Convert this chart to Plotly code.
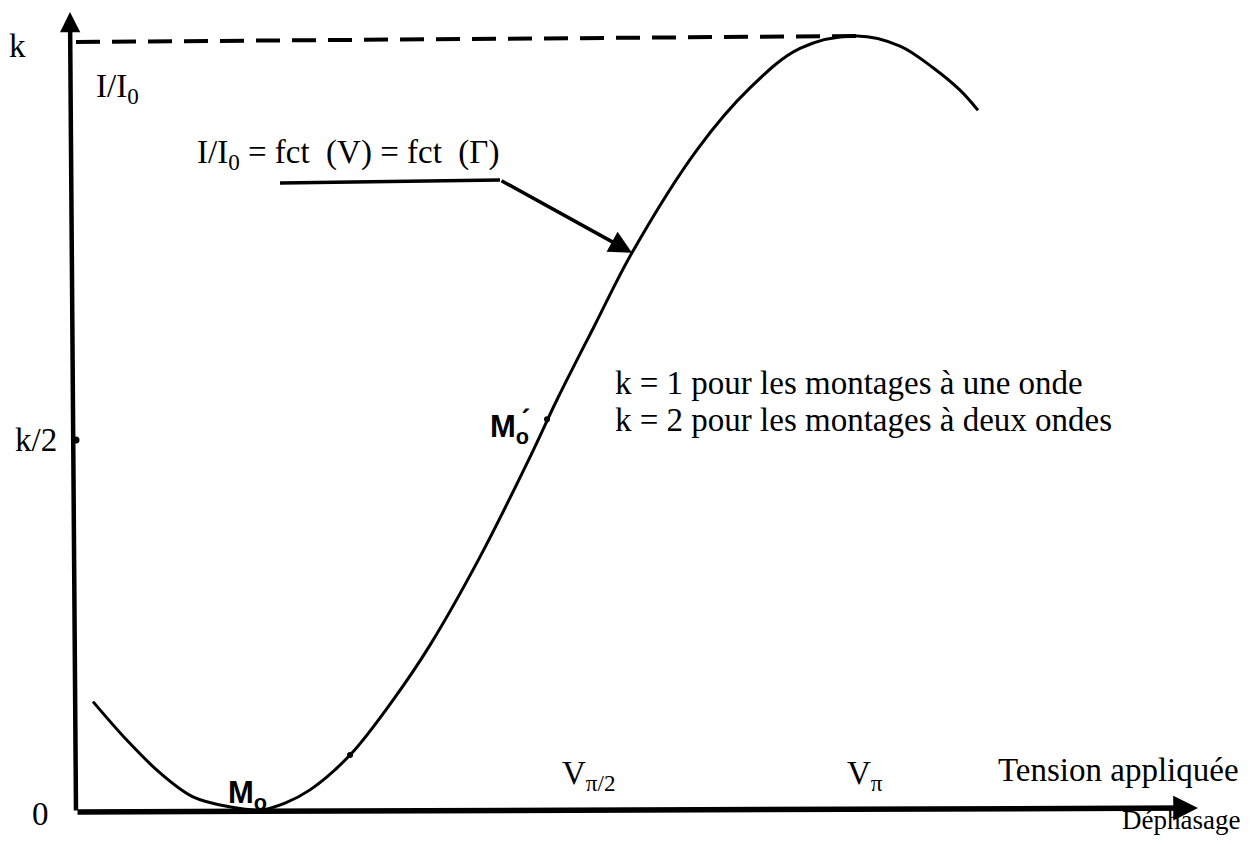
import plotly.graph_objects as go

# curve I/I0 (x in axis units, y as a fraction of k)
curve_x = [0.13, 0.47, 0.80, 1.13, 1.50, 1.80, 2.05, 2.30, 2.70, 3.13, 3.50, 4.00,
           4.50, 4.77, 5.15, 5.52, 6.17, 6.70, 7.20, 7.77, 8.20, 8.53, 8.80, 8.98]
curve_y = [0.140, 0.090, 0.048, 0.017, 0.004, 0.000, 0.009, 0.026, 0.071, 0.142, 0.213, 0.327,
           0.456, 0.530, 0.627, 0.720, 0.853, 0.933, 0.984, 1.000, 0.987, 0.959, 0.930, 0.904]

# levels on the vertical axis
y_levels = [0, 0.478, 1]
y_labels = ["0", "k/2", "k"]

# positions of the voltage marks on the horizontal axis
v_marks_x = [5.08, 7.85]
v_marks = ["V<sub>π/2</sub>", "V<sub>π</sub>"]

# leader line of the curve caption
leader_x = [2.00, 4.20]
leader_y = [0.810, 0.814]
leader_tip = (5.52, 0.720)

m0_point = (1.80, 0.0)
m0p_point = (4.67, 0.50)

SERIF = "Liberation Serif, Times New Roman, serif"
SANS = "Liberation Sans, Arial, sans-serif"


def X(px):
    return (px - 80) / 100.0


def Y(py):
    return (810 - py) / 774.0


fig = go.Figure()

# main curve
fig.add_trace(go.Scatter(x=curve_x, y=curve_y, mode="lines", line_shape="spline",
                         line=dict(color="black", width=3), hoverinfo="skip"))

# dashed line at k
top_i = curve_y.index(max(curve_y))
fig.add_trace(go.Scatter(x=[X(76), curve_x[top_i]], y=[Y(42), curve_y[top_i]],
                         mode="lines", line=dict(color="black", width=4, dash="24px,12px"),
                         hoverinfo="skip"))

# leader line
fig.add_trace(go.Scatter(x=leader_x, y=leader_y, mode="lines",
                         line=dict(color="black", width=3.5), hoverinfo="skip"))

# small marks on the curve
fig.add_trace(go.Scatter(x=[m0p_point[0] + 0.00, 2.70], y=[m0p_point[1] + 0.005, 0.071],
                         mode="markers", marker=dict(color="black", size=6),
                         hoverinfo="skip"))

ann = []
# axes with arrows
ann.append(dict(x=X(70), y=Y(12), ax=X(76), ay=Y(812), xref="x", yref="y", axref="x", ayref="y",
                text="", showarrow=True, arrowhead=2, arrowsize=0.9, arrowwidth=4.5, arrowcolor="black"))
ann.append(dict(x=X(1198), y=Y(808), ax=X(76), ay=Y(812), xref="x", yref="y", axref="x", ayref="y",
                text="", showarrow=True, arrowhead=2, arrowsize=0.9, arrowwidth=5.5, arrowcolor="black"))
# leader arrow
ann.append(dict(x=leader_tip[0], y=leader_tip[1], ax=leader_x[-1], ay=leader_y[-1],
                xref="x", yref="y", axref="x", ayref="y", text="", showarrow=True,
                arrowhead=2, arrowsize=1.3, arrowwidth=3.5, arrowcolor="black"))

font = dict(family=SERIF, size=33, color="black")

# vertical axis labels
label_px = {"0": (40, 814), "k/2": (36, 440), "k": (17, 46)}
for lv, lab in zip(y_levels, y_labels):
    lx, ly = label_px[lab]
    ann.append(dict(x=X(lx), y=Y(ly), text=lab, showarrow=False, font=font,
                    xanchor="center", yanchor="middle"))
# tick at k/2
fig.add_trace(go.Scatter(x=[X(76)], y=[y_levels[1]], mode="markers",
                         marker=dict(color="black", size=7), hoverinfo="skip"))

ann.append(dict(x=X(94), y=Y(88), text="I/I<sub>0</sub>", showarrow=False, font=font,
                xanchor="left", yanchor="middle"))
ann.append(dict(x=X(195), y=Y(154), text="I/I<sub>0</sub> = fct  (V) = fct  (Γ)", showarrow=False,
                font=font, xanchor="left", yanchor="middle"))
ann.append(dict(x=X(613), y=Y(383), text="k = 1 pour les montages à une onde", showarrow=False,
                font=font, xanchor="left", yanchor="middle"))
ann.append(dict(x=X(613), y=Y(420), text="k = 2 pour les montages à deux ondes", showarrow=False,
                font=font, xanchor="left", yanchor="middle"))

for vx, vt in zip(v_marks_x, v_marks):
    ann.append(dict(x=vx, y=Y(775), text=vt, showarrow=False, font=font,
                    xanchor="center", yanchor="middle"))

ann.append(dict(x=X(1241), y=Y(770), text="Tension appliquée", showarrow=False, font=font,
                xanchor="right", yanchor="middle"))
ann.append(dict(x=X(1241), y=0, yref="paper", text="Déphasage", showarrow=False,
                font=dict(family=SERIF, size=27, color="black"),
                xanchor="right", yanchor="bottom", borderpad=0))

bold = dict(family=SANS, size=31, color="black")
ann.append(dict(x=m0_point[0] - 0.13, y=Y(795), text="<b>M<sub>o</sub></b>", showarrow=False,
                font=bold, xanchor="center", yanchor="middle"))
ann.append(dict(x=m0p_point[0] - 0.37, y=Y(428), text="<b>M<sub>o</sub>́</b>", showarrow=False,
                font=bold, xanchor="center", yanchor="middle"))

fig.update_layout(
    width=1235, height=828,
    margin=dict(l=0, r=0, t=0, b=0),
    paper_bgcolor="white", plot_bgcolor="white",
    showlegend=False,
    xaxis=dict(range=[X(8), X(1243)], visible=False, fixedrange=True),
    yaxis=dict(range=[Y(836), Y(8)], visible=False, fixedrange=True),
    annotations=ann,
)

fig.write_html("out.html")
